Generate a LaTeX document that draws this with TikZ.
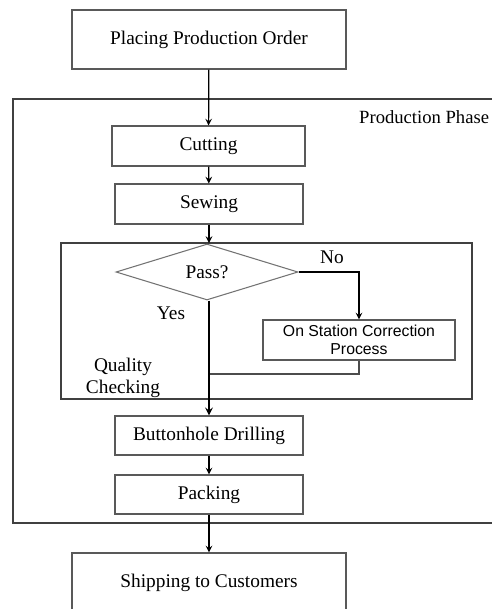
\documentclass[tikz,border=0pt]{standalone}
\usepackage{fontspec}
\setmainfont{Liberation Serif}
\newfontfamily\arialfont{Liberation Sans}
\usetikzlibrary{shapes.geometric}

\tikzset{
  stepbox/.style={draw=black!65, line width=0.6pt, inner sep=0pt, font=\fontsize{11}{13}\selectfont},
  flow/.style={->, >=stealth, line width=0.7pt},
  frame/.style={draw=black!75, line width=0.7pt}
}

\begin{document}
\begin{tikzpicture}[x=0.02cm, y=-0.02cm]
    \clip (0,0) rectangle (492,609);
    \fill[white] (0,0) rectangle (492,609);

    % Production phase frame
    \draw[frame] (13,99) rectangle (500,523);
    \node[anchor=west, font=\fontsize{10.6}{13}\selectfont] (phase) at (353,117) {Production Phase};

    % Quality checking frame
    \draw[frame] (61,243) rectangle (472,399);
    \node[align=center, font=\fontsize{11}{12.5}\selectfont] (qual) at (123,378) {Quality\\Checking};

    % Steps
    \node[stepbox, minimum width=274*0.02cm, minimum height=59*0.02cm] (order) at (209,39.5) {Placing Production Order};
    \node[stepbox, minimum width=193*0.02cm, minimum height=40*0.02cm] (cut) at (208.5,146) {Cutting};
    \node[stepbox, minimum width=188*0.02cm, minimum height=40*0.02cm] (sew) at (209,204) {Sewing};
    \node[draw=black!55, line width=0.6pt, diamond, aspect=3.25, inner sep=0pt,
          minimum width=182*0.02cm, minimum height=56*0.02cm,
          font=\fontsize{11}{13}\selectfont] (pass) at (207,272) {Pass?};
    \node[stepbox, minimum width=192*0.02cm, minimum height=40*0.02cm, align=center,
          font=\arialfont\fontsize{9}{10.5}\selectfont] (fix) at (359,340) {On Station Correction\\Process};
    \node[stepbox, minimum width=188*0.02cm, minimum height=39*0.02cm] (btn) at (209,435.5) {Buttonhole Drilling};
    \node[stepbox, minimum width=188*0.02cm, minimum height=39*0.02cm] (pack) at (209,494.5) {Packing};
    \node[stepbox, minimum width=274*0.02cm, minimum height=59*0.02cm] (ship) at (209,582.5) {Shipping to Customers};

    % Labels
    \node[font=\fontsize{11}{13}\selectfont] (no) at (332,257) {No};
    \node[font=\fontsize{11}{13}\selectfont] (yes) at (171,313) {Yes};

    % Connectors
    \coordinate (merge) at (209,374);
    \draw[flow] (order) -- (cut);
    \draw[flow] (cut) -- (sew);
    \draw[flow] (sew.south) -- (209,243);
    \draw[flow] (pass.east) -| (fix.north);
    \draw[line width=0.6pt, black!70] (fix.south) |- (merge);
    \draw[flow, line width=1pt] (pass.south -| merge) -- (btn.north);
    \draw[flow] (btn) -- (pack);
    \draw[flow] (pack) -- (ship);
\end{tikzpicture}
\end{document}
